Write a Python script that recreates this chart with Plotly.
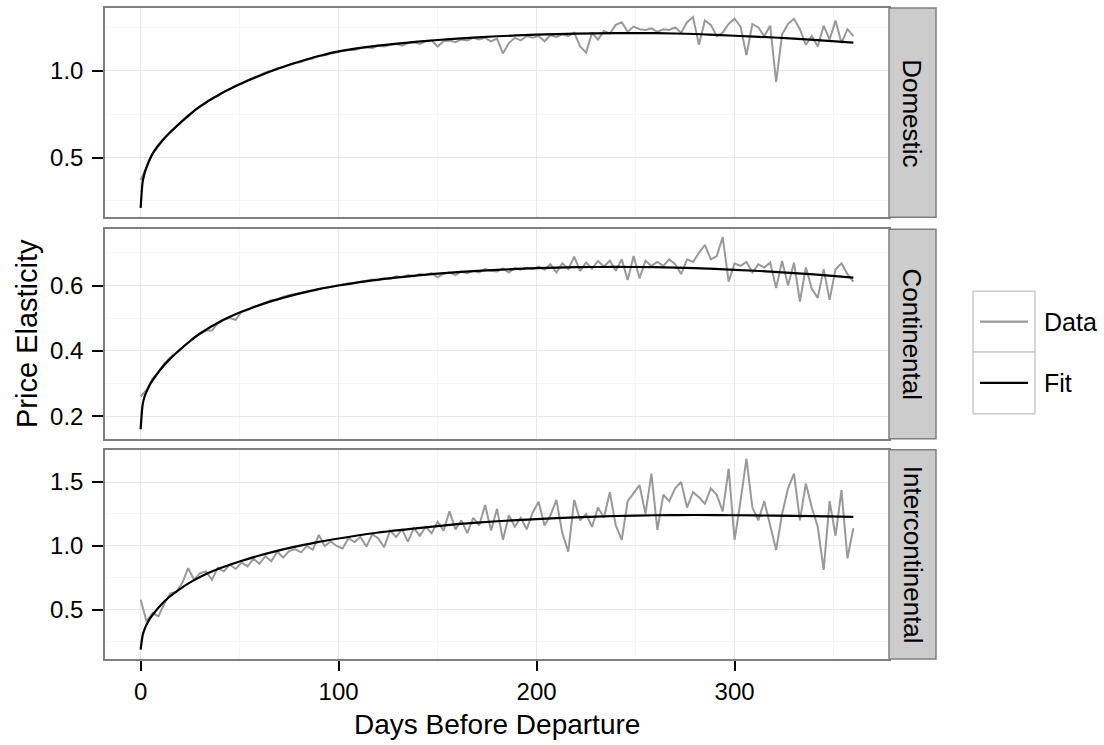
import plotly.graph_objects as go
from plotly.subplots import make_subplots

# ---------------- data ----------------
panels = ["Domestic", "Continental", "Intercontinental"]
days = list(range(0, 361, 3))

domestic_data = [
    0.37, 0.445, 0.52, 0.565, 0.61, 0.645, 0.68, 0.71, 0.735, 0.77,
    0.79, 0.815, 0.84, 0.855, 0.88, 0.895, 0.915, 0.925, 0.945, 0.955,
    0.975, 0.99, 1.0, 1.015, 1.02, 1.035, 1.045, 1.05, 1.065, 1.07,
    1.085, 1.09, 1.1, 1.105, 1.115, 1.12, 1.12, 1.13, 1.135, 1.13,
    1.145, 1.14, 1.15, 1.155, 1.145, 1.16, 1.165, 1.155, 1.17, 1.175,
    1.14, 1.17, 1.175, 1.165, 1.18, 1.175, 1.19, 1.18, 1.19, 1.17,
    1.185, 1.10, 1.16, 1.19, 1.175, 1.2, 1.19, 1.2, 1.17, 1.205,
    1.195, 1.21, 1.2, 1.22, 1.14, 1.105, 1.22, 1.18, 1.23, 1.215,
    1.265, 1.28, 1.225, 1.255, 1.24, 1.235, 1.245, 1.225, 1.24, 1.235,
    1.25, 1.22, 1.28, 1.31, 1.15, 1.29, 1.265, 1.2, 1.22, 1.27,
    1.3, 1.255, 1.09, 1.27, 1.25, 1.2, 1.26, 0.935, 1.21, 1.27,
    1.3, 1.24, 1.15, 1.2, 1.14, 1.26, 1.18, 1.29, 1.16, 1.24,
    1.2,
]
continental_data = [
    0.26, 0.28, 0.315, 0.335, 0.36, 0.38, 0.395, 0.41, 0.425, 0.44,
    0.452, 0.462, 0.462, 0.485, 0.495, 0.5, 0.495, 0.52, 0.525, 0.535,
    0.54, 0.548, 0.555, 0.556, 0.566, 0.57, 0.574, 0.578, 0.583, 0.585,
    0.59, 0.593, 0.596, 0.6, 0.603, 0.607, 0.608, 0.612, 0.614, 0.618,
    0.616, 0.622, 0.62, 0.628, 0.625, 0.632, 0.628, 0.635, 0.632, 0.638,
    0.625, 0.636, 0.64, 0.632, 0.643, 0.638, 0.645, 0.64, 0.65, 0.645,
    0.643, 0.652, 0.64, 0.653, 0.648, 0.655, 0.65, 0.658, 0.648, 0.665,
    0.64, 0.668, 0.65, 0.688, 0.645, 0.67, 0.652, 0.675, 0.658, 0.676,
    0.645, 0.68, 0.617, 0.69, 0.622, 0.676, 0.66, 0.672, 0.66, 0.68,
    0.665, 0.635, 0.68, 0.672, 0.7, 0.724, 0.68, 0.69, 0.748, 0.612,
    0.668, 0.66, 0.672, 0.64, 0.665, 0.655, 0.67, 0.592, 0.675, 0.6,
    0.67, 0.551, 0.655, 0.59, 0.562, 0.65, 0.556, 0.65, 0.668, 0.635,
    0.612,
]
intercontinental_data = [
    0.58, 0.41, 0.475, 0.45, 0.55, 0.63, 0.64, 0.71, 0.826, 0.735,
    0.787, 0.80, 0.735, 0.83, 0.80, 0.855, 0.82, 0.87, 0.84, 0.9,
    0.86, 0.92, 0.88, 0.955, 0.91, 0.96, 0.975, 0.95, 1.0, 0.97,
    1.086, 1.0, 1.035, 1.0, 0.98, 1.06, 1.03, 1.07, 0.995, 1.09,
    1.06, 0.99, 1.12, 1.07, 1.13, 1.034, 1.14, 1.08, 1.15, 1.1,
    1.19, 1.12, 1.27, 1.13, 1.2, 1.1, 1.22, 1.16, 1.32, 1.12,
    1.29, 1.047, 1.24, 1.15, 1.22, 1.13, 1.26, 1.345, 1.16, 1.24,
    1.36, 1.1, 0.956, 1.36, 1.2, 1.25, 1.15, 1.3, 1.22, 1.42,
    1.16, 1.047, 1.35, 1.41, 1.475, 1.25, 1.566, 1.125, 1.4, 1.35,
    1.45, 1.5, 1.3, 1.42, 1.38, 1.33, 1.45, 1.4, 1.27, 1.605,
    1.047, 1.35, 1.683, 1.3, 1.2, 1.35, 1.15, 0.969, 1.25, 1.45,
    1.566, 1.2, 1.488, 1.3, 1.15, 0.813, 1.35, 1.08, 1.436, 0.904,
    1.138,
]

fit_days = [0, 1, 2, 3, 5, 7, 10, 14, 20, 25, 30, 40, 50, 60, 70, 80, 90, 100,
            120, 140, 160, 180, 200, 220, 240, 260, 280, 300, 320, 340, 360]
domestic_fit = [0.21, 0.36, 0.41, 0.445, 0.50, 0.54, 0.585, 0.635, 0.70, 0.75,
                0.795, 0.865, 0.922, 0.972, 1.015, 1.052, 1.085, 1.112,
                1.145, 1.168, 1.186, 1.199, 1.208, 1.214, 1.217, 1.217, 1.212,
                1.202, 1.192, 1.178, 1.162]
continental_fit = [0.16, 0.235, 0.26, 0.275, 0.30, 0.318, 0.343, 0.37, 0.404, 0.43,
                   0.453, 0.489, 0.517, 0.540, 0.559, 0.575, 0.589, 0.600,
                   0.618, 0.631, 0.641, 0.648, 0.653, 0.656, 0.657, 0.656, 0.653,
                   0.648, 0.642, 0.634, 0.624]
intercontinental_fit = [0.19, 0.30, 0.35, 0.385, 0.44, 0.48, 0.535, 0.595, 0.665, 0.715,
                        0.758, 0.825, 0.878, 0.925, 0.965, 1.0, 1.032, 1.058,
                        1.105, 1.14, 1.17, 1.193, 1.21, 1.224, 1.234, 1.24, 1.242,
                        1.24, 1.237, 1.233, 1.228]

x_ticks = [0, 100, 200, 300]
x_tick_labels = ["0", "100", "200", "300"]
y_ticks = [[0.5, 1.0], [0.2, 0.4, 0.6], [0.5, 1.0, 1.5]]
y_tick_labels = [["0.5", "1.0"], ["0.2", "0.4", "0.6"], ["0.5", "1.0", "1.5"]]
y_minor = [[0.25, 0.75, 1.25], [0.3, 0.5, 0.7], [0.25, 0.75, 1.25]]
y_ranges = [[0.155, 1.362], [0.131, 0.772], [0.116, 1.753]]

series_data = [domestic_data, continental_data, intercontinental_data]
series_fit = [domestic_fit, continental_fit, intercontinental_fit]
for s in series_data:
    assert len(s) == len(days)
for s in series_fit:
    assert len(s) == len(fit_days)

# ---------------- layout geometry (pixels) ----------------
W, H = 1104, 745
L, R, T, B = 105, 215, 6, 86
PW, PH = W - L - R, H - T - B
panel_px = [(6, 216), (228, 438), (449, 659)]  # top, bottom in pixels


def px2x(px):
    return (px - L) / PW


def py2y(py):
    return (H - B - py) / PH


FONT = "Liberation Sans, Arial, Helvetica, sans-serif"
DATA_COL = "#999999"
FIT_COL = "#000000"
BORDER = "#7F7F7F"
GRID = "#E8E8E8"
MINOR = "#F5F5F5"
TICK_SIZE = 24

fig = make_subplots(rows=3, cols=1, shared_xaxes=True)

for i in range(3):
    fig.add_trace(go.Scatter(x=days, y=series_data[i], mode="lines", name="Data",
                             line=dict(color=DATA_COL, width=2), showlegend=False),
                  row=i + 1, col=1)
    fig.add_trace(go.Scatter(x=fit_days, y=series_fit[i], mode="lines", name="Fit",
                             line=dict(color=FIT_COL, width=2.2, shape="spline", smoothing=0.6),
                             showlegend=False),
                  row=i + 1, col=1)

for i in range(3):
    top, bot = panel_px[i]
    ax = "" if i == 0 else str(i + 1)
    fig.layout["yaxis" + ax].update(
        domain=[py2y(bot), py2y(top)], range=y_ranges[i],
        tickmode="array", tickvals=y_ticks[i], ticktext=y_tick_labels[i],
        ticks="outside", ticklen=11, tickwidth=1.5, tickcolor="black",
        ticklabelstandoff=4,
        showgrid=True, gridcolor=GRID, gridwidth=1.3, zeroline=False,
        showline=True, linecolor=BORDER, linewidth=1.5, mirror=True,
        tickfont=dict(family=FONT, size=TICK_SIZE, color="black"),
        minor=dict(tickmode="array", tickvals=y_minor[i], showgrid=True,
                   gridcolor=MINOR, gridwidth=1.3, ticks=""),
    )
    fig.layout["xaxis" + ax].update(
        domain=[0, 1], range=[-18, 378],
        tickmode="array", tickvals=x_ticks, ticktext=x_tick_labels,
        ticks="outside" if i == 2 else "", ticklen=10, tickwidth=1.5, tickcolor="black",
        ticklabelstandoff=0,
        showticklabels=(i == 2),
        showgrid=True, gridcolor=GRID, gridwidth=1.3, zeroline=False,
        showline=True, linecolor=BORDER, linewidth=1.5, mirror=True,
        tickfont=dict(family=FONT, size=TICK_SIZE, color="black"),
        minor=dict(tickmode="array", tickvals=[50, 150, 250, 350], showgrid=True,
                   gridcolor=MINOR, gridwidth=1.3, ticks=""),
    )

shapes = []
annotations = []
# strips
for i in range(3):
    top, bot = panel_px[i]
    shapes.append(dict(type="rect", xref="paper", yref="paper",
                       x0=px2x(889), x1=px2x(936), y0=py2y(bot), y1=py2y(top),
                       fillcolor="#CCCCCC", line=dict(color=BORDER, width=1.5), layer="above"))
    annotations.append(dict(text=panels[i], xref="paper", yref="paper",
                            x=px2x(912.5), y=py2y((top + bot) / 2), showarrow=False,
                            textangle=90, font=dict(family=FONT, size=26, color="black"),
                            xanchor="center", yanchor="middle"))

# legend (drawn)
leg_rows = [(290, 351, DATA_COL, "Data"), (351, 413, FIT_COL, "Fit")]
for y0, y1, col, lab in leg_rows:
    shapes.append(dict(type="rect", xref="paper", yref="paper",
                       x0=px2x(973), x1=px2x(1035), y0=py2y(y1), y1=py2y(y0),
                       fillcolor="white", line=dict(color="#CCCCCC", width=1.5)))
    ym = (y0 + y1) / 2
    shapes.append(dict(type="line", xref="paper", yref="paper",
                       x0=px2x(980), x1=px2x(1028), y0=py2y(ym), y1=py2y(ym),
                       line=dict(color=col, width=2.2)))
    annotations.append(dict(text=lab, xref="paper", yref="paper",
                            x=px2x(1042), y=py2y(ym), showarrow=False,
                            xanchor="left", yanchor="middle",
                            font=dict(family=FONT, size=25, color="black")))

# axis titles
annotations.append(dict(text="Days Before Departure", xref="paper", yref="paper",
                        x=px2x(497), y=py2y(725), showarrow=False,
                        xanchor="center", yanchor="middle",
                        font=dict(family=FONT, size=28, color="black")))
annotations.append(dict(text="Price Elasticity", xref="paper", yref="paper",
                        x=px2x(27), y=py2y(333), showarrow=False, textangle=-90,
                        xanchor="center", yanchor="middle",
                        font=dict(family=FONT, size=29, color="black")))

fig.update_layout(
    width=W, height=H,
    margin=dict(l=L, r=R, t=T, b=B),
    paper_bgcolor="white", plot_bgcolor="white",
    shapes=shapes, annotations=annotations,
    showlegend=False,
    font=dict(family=FONT, color="black"),
)

fig.write_html("out.html", config={"displayModeBar": False},
               post_script="document.body.style.margin='0px';")
